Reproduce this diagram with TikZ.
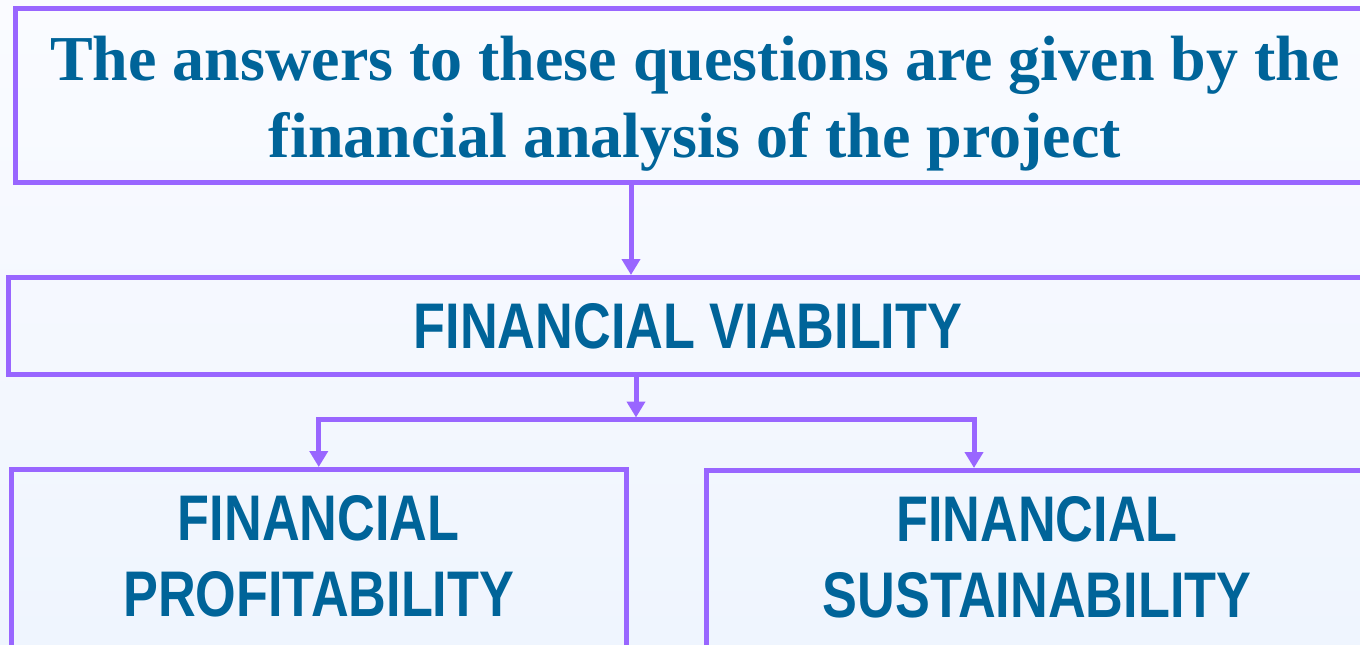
\documentclass[tikz,border=0pt]{standalone}
\usepackage{fontspec}
\setmainfont{Liberation Serif}
\newfontfamily\narrowsans{Liberation Sans}[FakeStretch=0.81]
\usetikzlibrary{arrows.meta, positioning}

\definecolor{framepurple}{RGB}{153,102,255}
\definecolor{textblue}{RGB}{0,100,153}
\definecolor{bgtop}{RGB}{250,251,255}
\definecolor{bgbottom}{RGB}{239,245,254}

\begin{document}
\begin{tikzpicture}[
				x=1pt, y=-1pt,
				frame/.style = {
					draw=framepurple,
					line width=5pt,
					rectangle
				},
				arrow/.style = {
					draw=framepurple,
					line width=5pt,
					-{Triangle[width=18pt, length=16pt]}
				}
			]
			\tikzstyle{Label} = [ %all the texts share colour and spacing
				text=textblue,
				inner sep=0pt,
				outer sep=0pt,
				align=center
			]
			\tikzstyle{SerifLabel} = [
				font=\fontsize{64}{77}\selectfont\bfseries,
				Label
			]
			\tikzstyle{SansLabel} = [
				font=\fontsize{64.5}{76}\selectfont\narrowsans\bfseries,
				Label
			]
			
			\useasboundingbox (0,0) rectangle (1360,645);
			\fill[top color=bgtop, bottom color=bgbottom] (0,0) rectangle (1360,645);
			\clip (0,0) rectangle (1360,645);
			
			\node (question) [frame, minimum width=1359pt, minimum height=174pt] at (695,95.5) {};
			\node (questiontext) [SerifLabel, below = 30.5pt of question.north]
				{The answers to these questions are given by the\\financial analysis of the project};
			
			\node (viability) [frame, minimum width=1359pt, minimum height=97pt] at (688,326) {};
			\node (viabilitytext) [SansLabel] at (viability.center) {FINANCIAL VIABILITY};
			
			\node (profit) [frame, anchor=north, minimum width=614.5pt, minimum height=230pt] at (318.75,467) {};
			\node (profittext) [SansLabel, below = 28.5pt of profit.north] {FINANCIAL\\PROFITABILITY};
			
			\node (sustain) [frame, anchor=north, minimum width=661pt, minimum height=230pt] at (1037,468) {};
			\node (sustaintext) [SansLabel, below = 28pt of sustain.north] {FINANCIAL\\SUSTAINABILITY};
			
			\coordinate (fork) at ([xshift=-52pt, yshift=-42.5pt]viability.south);
			\draw[arrow] ([xshift=-64pt]question.south) -- ([xshift=-57pt]viability.north);
			\draw[arrow, shorten >=2pt] ([xshift=-52pt]viability.south) -- (fork);
			\draw[arrow] (fork) -| (profit.north);
			\draw[arrow] (fork) -| ([xshift=-63pt]sustain.north);
		\end{tikzpicture}
\end{document}
